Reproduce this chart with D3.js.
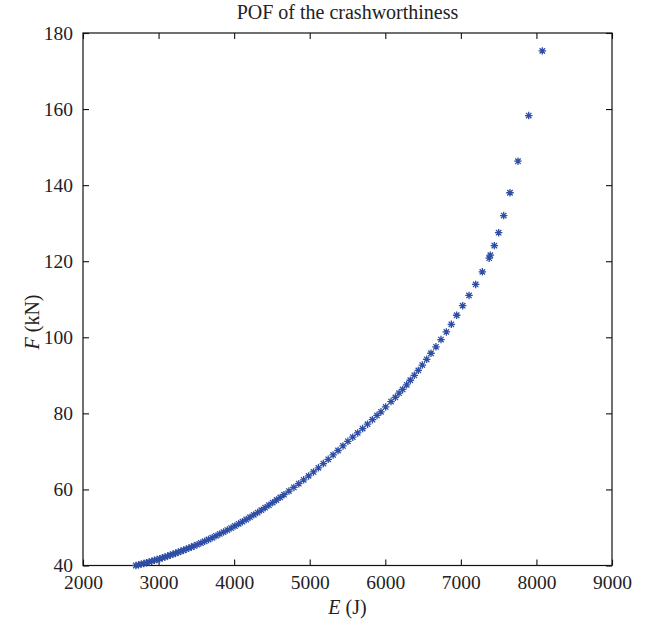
<!DOCTYPE html>
<html>
<head>
<meta charset="utf-8">
<script src="https://cdn.jsdelivr.net/npm/d3@7"></script>
<style>
  body { margin: 0; background: #fff; }
  text { font-family: "Liberation Serif", "DejaVu Serif", serif; fill: #222; }
</style>
</head>
<body>
<div id="chart"></div>
<script>
// Pareto front points: E in J, F in kN
var energy = [
  2700, 2735, 2770, 2805, 2840, 2875, 2910, 2945, 2980, 3015, 3050, 3085, 3120, 3155, 3190, 3225,
  3260, 3295, 3330, 3365, 3400, 3435, 3470,
  3510, 3560, 3610, 3660, 3710, 3760, 3810, 3860, 3910, 3960, 4010, 4060, 4110, 4160, 4210, 4260,
  4310, 4360, 4410, 4460, 4510, 4560, 4610, 4660,
  4725, 4790, 4855, 4920, 4985, 5050, 5115, 5180, 5245, 5310, 5375, 5440, 5505, 5570, 5635, 5700,
  5765, 5830, 5890,
  5943, 6005, 6076, 6133, 6182, 6230, 6283, 6331, 6384, 6437, 6490, 6548, 6605, 6671, 6737, 6808,
  6874, 6945, 7024, 7108, 7196, 7284, 7375, 7390, 7443, 7500, 7567, 7650, 7756, 7898, 8078
];
var force = [
  40.00, 40.18, 40.36, 40.55, 40.74, 40.94, 41.14, 41.35, 41.56, 41.78, 42.01, 42.24, 42.48, 42.72, 42.96, 43.22,
  43.48, 43.74, 44.01, 44.29, 44.57, 44.85, 45.14,
  45.49, 45.92, 46.37, 46.83, 47.30, 47.79, 48.29, 48.79, 49.32, 49.85, 50.39, 50.95, 51.52, 52.10, 52.70, 53.31,
  53.92, 54.56, 55.20, 55.86, 56.53, 57.22, 57.91, 58.62,
  59.56, 60.53, 61.52, 62.53, 63.56, 64.61, 65.69, 66.79, 67.92, 69.06, 70.23, 71.43, 72.65, 73.74, 74.86, 75.99,
  77.16, 78.35, 79.45,
  80.4, 81.7, 83.1, 84.2, 85.3, 86.3, 87.5, 88.7, 90.0, 91.3, 92.7, 94.2, 95.8, 97.5, 99.4, 101.4,
  103.4, 105.8, 108.3, 111.0, 113.9, 117.2, 120.8, 121.6, 124.1, 127.5, 132.0, 138.0, 146.3, 158.3, 175.3
];
var xTicks = [2000, 3000, 4000, 5000, 6000, 7000, 8000, 9000];
var yTicks = [40, 60, 80, 100, 120, 140, 160, 180];

var width = 647, height = 627;
var margin = {top: 33, right: 35, bottom: 61.5, left: 83};

var svg = d3.select("#chart").append("svg")
    .attr("width", width)
    .attr("height", height);

var x = d3.scaleLinear().domain([2000, 9000]).range([margin.left, width - margin.right]);
var y = d3.scaleLinear().domain([40, 180]).range([height - margin.bottom, margin.top]);

// matlab style '*' marker: a plus and a cross
var star = {
  draw: function(ctx, size) {
    var r = Math.sqrt(size) / 2, d = r * 0.72;
    ctx.moveTo(-r, 0); ctx.lineTo(r, 0);
    ctx.moveTo(0, -r); ctx.lineTo(0, r);
    ctx.moveTo(-d, -d); ctx.lineTo(d, d);
    ctx.moveTo(-d, d); ctx.lineTo(d, -d);
  }
};

var tickLen = 6;
var axisStyle = function(g) {
  g.select(".domain").remove();
  g.selectAll(".tick line").attr("stroke", "#111").attr("stroke-width", 1.1);
  g.selectAll(".tick text")
    .style("font-family", "'Liberation Serif', serif")
    .style("font-size", "19.5px")
    .attr("fill", "#222");
};

svg.append("g")
    .attr("transform", "translate(0," + y.range()[0] + ")")
    .call(d3.axisBottom(x).tickValues(xTicks).tickSize(-tickLen).tickPadding(10).tickFormat(d3.format("d")))
    .call(axisStyle);
svg.append("g")
    .attr("transform", "translate(0," + y.range()[1] + ")")
    .call(d3.axisTop(x).tickValues(xTicks).tickSize(-tickLen).tickFormat(""))
    .call(axisStyle);
svg.append("g")
    .attr("transform", "translate(" + x.range()[0] + ",0)")
    .call(d3.axisLeft(y).tickValues(yTicks).tickSize(-tickLen).tickPadding(10).tickFormat(d3.format("d")))
    .call(axisStyle);
svg.append("g")
    .attr("transform", "translate(" + x.range()[1] + ",0)")
    .call(d3.axisRight(y).tickValues(yTicks).tickSize(-tickLen).tickFormat(""))
    .call(axisStyle);

// box
svg.append("rect")
    .attr("x", x.range()[0])
    .attr("y", y.range()[1])
    .attr("width", x.range()[1] - x.range()[0])
    .attr("height", y.range()[0] - y.range()[1])
    .attr("fill", "none")
    .attr("stroke", "#111")
    .attr("stroke-width", 1.2);

svg.append("g").selectAll("path")
    .data(energy.map(function(e, i) { return {e: e, f: force[i]}; }))
    .enter().append("path")
    .attr("transform", function(d) { return "translate(" + x(d.e) + "," + y(d.f) + ")"; })
    .attr("d", d3.symbol().type(star).size(56))
    .attr("fill", "none")
    .attr("stroke", "#2e4ea6")
    .attr("stroke-width", 1.3);

svg.append("text")
    .attr("x", (x.range()[0] + x.range()[1]) / 2)
    .attr("y", 19)
    .attr("text-anchor", "middle")
    .style("font-size", "20px")
    .text("POF of the crashworthiness");

var xl = svg.append("text")
    .attr("x", (x.range()[0] + x.range()[1]) / 2)
    .attr("y", 614)
    .attr("text-anchor", "middle")
    .style("font-size", "20px");
xl.append("tspan").style("font-style", "italic").text("E");
xl.append("tspan").text(" (J)");

var yl = svg.append("text")
    .attr("transform", "translate(39,322) rotate(-90)")
    .attr("text-anchor", "middle")
    .style("font-size", "20px");
yl.append("tspan").style("font-style", "italic").text("F");
yl.append("tspan").text(" (kN)");
</script>
</body>
</html>
